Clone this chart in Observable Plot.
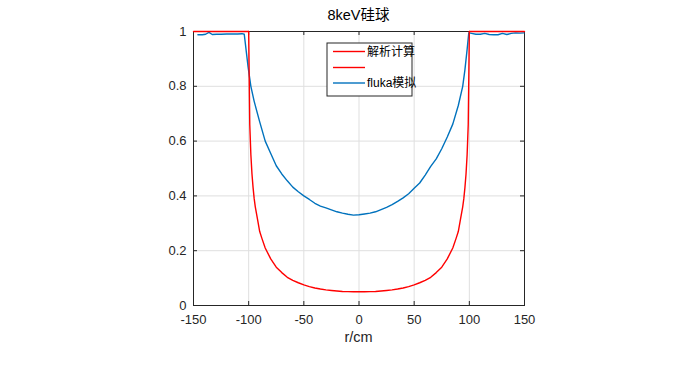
<!DOCTYPE html>
<html>
<head>
<meta charset="utf-8">
<script src="https://cdn.jsdelivr.net/npm/d3@7"></script>
<script src="https://cdn.jsdelivr.net/npm/@observablehq/plot@0.6"></script>
<style>
  html, body { margin: 0; padding: 0; background: #fff; }
  svg { display: block; }
</style>
</head>
<body>
<div id="chart"></div>
<script>
const titleText = "8keV硅球";
const xLabelText = "r/cm";
const xTicks = [-150, -100, -50, 0, 50, 100, 150];
const yTicks = [0, 0.2, 0.4, 0.6, 0.8, 1];
const legendNames = ["解析计算", "", "fluka模拟"];

// analytic calculation (inside the sphere)
const calcR = [-100, -99, -98, -97, -96, -95, -94, -92, -90, -88, -85, -80, -75, -70, -65, -60, -55, -50, -45, -40, -35, -30, -25, -20, -15, -10, -5, 0,
  5, 10, 15, 20, 25, 30, 35, 40, 45, 50, 55, 60, 65, 70, 75, 80, 85, 88, 90, 92, 94, 95, 96, 97, 98, 99, 100];
const calcT = [1, 0.66, 0.55, 0.48, 0.43, 0.39, 0.36, 0.315, 0.27, 0.245, 0.21, 0.17, 0.14, 0.12, 0.103, 0.092, 0.083, 0.075, 0.069, 0.064, 0.06, 0.057, 0.055, 0.053, 0.051, 0.0505, 0.05, 0.05,
  0.05, 0.0505, 0.051, 0.053, 0.055, 0.057, 0.06, 0.064, 0.069, 0.075, 0.083, 0.092, 0.103, 0.12, 0.14, 0.17, 0.21, 0.245, 0.27, 0.315, 0.36, 0.39, 0.43, 0.48, 0.55, 0.66, 1];

// analytic, outside the sphere (second red series)
const outerSeg = [0, 0, 1, 1];
const outerR = [-150, -100, 100, 150];
const outerT = [1, 1, 1, 1];

// fluka simulation
const flukaR = [-146, -142, -139, -136, -133, -129, -125, -120, -115, -110, -106, -104, -100.5, -98, -95, -90, -85, -80, -75, -70, -65, -60, -55, -50, -45, -40, -35, -30, -25, -20, -15, -10, -5, 0,
  5, 10, 15, 20, 25, 30, 35, 40, 45, 50, 55, 60, 65, 70, 75, 80, 85, 90, 94, 96, 98, 99.5, 102, 106, 110, 114, 118, 122, 126, 130, 134, 138, 142, 146, 149.5];
const flukaT = [0.988, 0.988, 0.990, 0.997, 0.989, 0.990, 0.990, 0.991, 0.991, 0.991, 0.992, 0.990, 0.87, 0.80, 0.745, 0.67, 0.60, 0.555, 0.51, 0.48, 0.455, 0.432, 0.415, 0.40, 0.387, 0.373, 0.363, 0.356, 0.349, 0.342, 0.337, 0.333, 0.330, 0.331,
  0.334, 0.337, 0.342, 0.350, 0.358, 0.368, 0.380, 0.393, 0.408, 0.428, 0.447, 0.476, 0.508, 0.535, 0.572, 0.615, 0.662, 0.73, 0.80, 0.86, 0.935, 0.995, 0.993, 0.990, 0.990, 0.993, 0.989, 0.988, 0.988, 0.993, 0.989, 0.993, 0.995, 0.994, 0.995];

const calc = calcR.map((r, i) => ({r, t: calcT[i]}));
const outer = outerR.map((r, i) => ({r, t: outerT[i], seg: outerSeg[i]}));
const fluka = flukaR.map((r, i) => ({r, t: flukaT[i]}));

const RED = "#ff0000";
const BLUE = "#0072bd";
const AX = "#262626";
const W = 689, H = 366;
const mL = 193, mR = 165, mT = 31, mB = 61;
const pw = W - mL - mR, ph = H - mT - mB;
const tl = 4;

const chart = Plot.plot({
  width: W,
  height: H,
  marginLeft: mL,
  marginRight: mR,
  marginTop: mT,
  marginBottom: mB,
  style: {fontFamily: "'Liberation Sans', 'Noto Sans CJK SC', sans-serif", fontSize: "13px", color: AX, background: "#fff"},
  x: {domain: [-150, 150], ticks: xTicks, tickFormat: d => String(d)},
  y: {domain: [0, 1], ticks: yTicks, tickFormat: d => String(d)},
  marks: [
    Plot.gridX(xTicks, {stroke: "#dfdfdf", strokeOpacity: 1}),
    Plot.gridY(yTicks, {stroke: "#dfdfdf", strokeOpacity: 1}),
    Plot.axisX(xTicks, {tickSize: 0, tickPadding: 9, fontSize: 13, fill: AX, label: null, tickFormat: d => String(d)}),
    Plot.axisY(yTicks, {tickSize: 0, tickPadding: 7, fontSize: 13, fill: AX, label: null, tickFormat: d => String(d)}),
    Plot.tickX(xTicks, {x: d => d, stroke: AX, insetTop: ph - tl}),
    Plot.tickX(xTicks, {x: d => d, stroke: AX, insetBottom: ph - tl}),
    Plot.tickY(yTicks, {y: d => d, stroke: AX, insetRight: pw - tl}),
    Plot.tickY(yTicks, {y: d => d, stroke: AX, insetLeft: pw - tl}),
    Plot.frame({stroke: AX, strokeWidth: 1}),
    Plot.line(fluka, {x: "r", y: "t", stroke: BLUE, strokeWidth: 1.4}),
    Plot.line(outer, {x: "r", y: "t", z: "seg", stroke: RED, strokeWidth: 1.4}),
    Plot.line(calc, {x: "r", y: "t", stroke: RED, strokeWidth: 1.4})
  ]
});

const svg = d3.select(chart);
const font = "'Liberation Sans', 'Noto Sans CJK SC', sans-serif";

// title
svg.append("text")
  .attr("x", mL + pw / 2).attr("y", 20)
  .attr("text-anchor", "middle")
  .attr("font-family", font).attr("font-size", 14.5)
  .attr("fill", "#000")
  .text(titleText);

// x label
svg.append("text")
  .attr("x", mL + pw / 2).attr("y", 342)
  .attr("text-anchor", "middle")
  .attr("font-family", font).attr("font-size", 14.5)
  .attr("fill", AX)
  .text(xLabelText);

// legend
const lg = svg.append("g");
const lx = 327, ly = 43, lw = 85, lh = 53;
lg.append("rect").attr("x", lx).attr("y", ly).attr("width", lw).attr("height", lh)
  .attr("fill", "#fff").attr("stroke", AX).attr("stroke-width", 1);
const legendColors = [RED, RED, BLUE];
const rowY = [51.5, 67.5, 83];
legendNames.forEach((name, i) => {
  lg.append("line").attr("x1", lx + 6).attr("x2", lx + 38)
    .attr("y1", rowY[i]).attr("y2", rowY[i])
    .attr("stroke", legendColors[i]).attr("stroke-width", 1.4);
  lg.append("text").attr("x", lx + 40).attr("y", rowY[i])
    .attr("dy", "0.35em")
    .attr("text-anchor", "start")
    .attr("font-family", font).attr("font-size", 12)
    .attr("fill", "#000")
    .text(name);
});

document.getElementById("chart").appendChild(chart);
</script>
</body>
</html>
